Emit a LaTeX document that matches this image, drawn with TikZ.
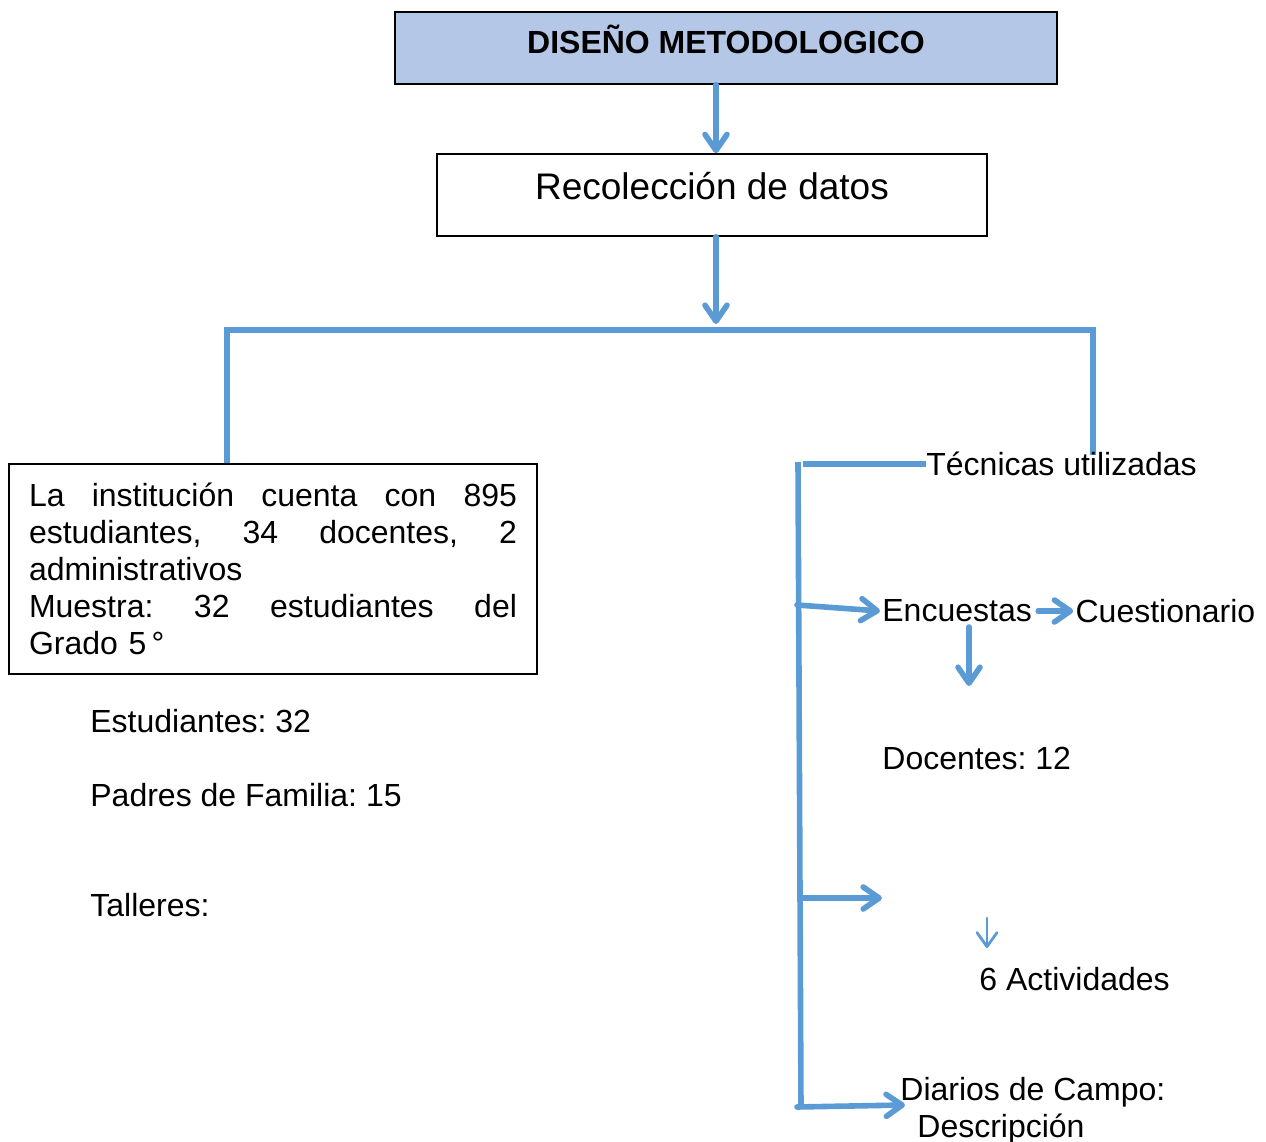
\documentclass[tikz,border=0pt]{standalone}
\usepackage{fontspec}
\setmainfont{Liberation Sans}
\usetikzlibrary{arrows.meta, positioning}
\setlength{\parindent}{0pt}
\frenchspacing
\definecolor{azul}{HTML}{5B9BD5}
\definecolor{azulclaro}{HTML}{B4C7E7}
\tikzstyle{caja} = [draw=black, line width=0.75pt, inner sep=0pt]
\tikzstyle{texto} = [inner sep=0pt, anchor=west, font=\fontsize{16}{18.5}\selectfont]
\tikzstyle{linea} = [draw=azul, line width=2.8pt]
\tikzstyle{arrow} = [linea, line cap=round, -{Straight Barb[length=8pt,width=11pt,round]}]
\tikzstyle{flechita} = [draw=azul, line width=1.4pt, line cap=round, -{Straight Barb[length=7pt,width=10pt,round]}]

\begin{document}
\begin{tikzpicture}[x=0.5pt, y=-0.5pt, text centered]
    \useasboundingbox (0,0) rectangle (1266,1142);

    \node (titulo) [caja, fill=azulclaro, minimum width=331pt, minimum height=36pt, text height=12pt, text depth=6.5pt, font=\fontsize{16}{19}\selectfont\bfseries] at (726,48) {DISEÑO METODOLOGICO};
    \node (recol) [caja, minimum width=275pt, minimum height=41pt, text height=14pt, text depth=9.5pt, font=\fontsize{18.5}{22}\selectfont] at (712,195) {Recolección de datos};

    \coordinate (bizq) at (227,330);
    \coordinate (bder) at (1093,330);

    \draw[arrow] ([xshift=2pt]recol.north |- titulo.south) -- ([xshift=2pt]recol.north);
    \draw[arrow, shorten >=3pt] ([xshift=2pt]recol.south) -- ([xshift=2pt]recol.south |- bizq);

    % caja de la izquierda
    \node (info) [caja, minimum width=264pt, minimum height=105pt, text width=244pt, inner xsep=10pt, align=left, font=\fontsize{16}{18.5}\selectfont] at (273,569)
        {La\hfill institución\hfill cuenta\hfill con\hfill 895\\
         estudiantes,\hfill 34\hfill docentes,\hfill 2\\
         administrativos\\
         Muestra:\hfill 32\hfill estudiantes\hfill del\\
         Grado 5\,°};
    \draw[linea] (bizq |- info.north) -- (bizq) -- (bder) -- ++(0,125);

    \node (estud) [texto] at (90,721) {Estudiantes: 32};
    \node (padres) [texto] at (90,795) {Padres de Familia: 15};
    \node (talleres) [texto] at (90,905) {Talleres:};

    % tecnicas
    \node (tecnicas) [texto] at (926,464) {Técnicas utilizadas};
    \coordinate (esq) at (803,464);
    \coordinate (sup) at (798,462);
    \coordinate (inf) at (801,1107);
    \draw[linea] (esq) -- (esq -| tecnicas.west);
    \draw[linea] (sup) -- (inf);

    \node (encuestas) [texto] at (882,611) {Encuestas};
    \node (cuestionario) [texto, right=21.5pt of encuestas] {Cuestionario};
    \node (docentes) [texto] at (882,758) {Docentes: 12};
    \node (activ) [texto] at (979,979) {6 Actividades};
    \node (diarios) [texto, align=left] at (900,1111) {Diarios de Campo:\\\hspace*{8.5pt}Descripción};

    \coordinate (r1) at (797,605);
    \coordinate (e1) at (969,627);
    \coordinate (e2) at (969,686);
    \coordinate (r2) at (801,898);
    \coordinate (r2f) at (882,898);
    \coordinate (a1) at (987,918);
    \coordinate (a2) at (987,948);
    \coordinate (r3) at (797,1107);
    \coordinate (r3f) at (905,1105);

    \draw[arrow] (r1) -- ([xshift=-1pt]encuestas.west);
    \draw[arrow] ([xshift=3pt]encuestas.east) -- ([xshift=-1pt]cuestionario.west);
    \draw[arrow] (e1) -- (e2);
    \draw[arrow] (r2) -- (r2f);
    \draw[flechita] (a1) -- (a2);
    \draw[arrow] (r3) -- (r3f);

\end{tikzpicture}
\end{document}
